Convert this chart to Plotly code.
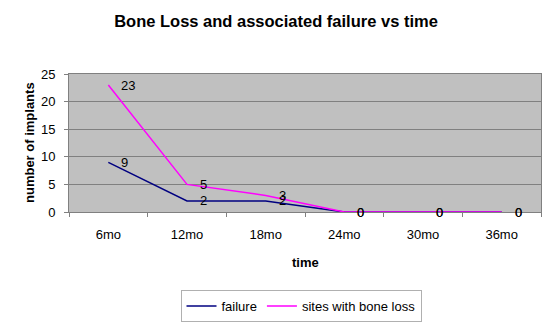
import plotly.graph_objects as go

categories = ["6mo", "12mo", "18mo", "24mo", "30mo", "36mo"]
failure = [9, 2, 2, 0, 0, 0]
bone_loss = [23, 5, 3, 0, 0, 0]

font = "Liberation Sans, Arial, sans-serif"

fig = go.Figure()
fig.add_trace(go.Scatter(
    x=categories, y=failure, name="failure", mode="lines",
    line=dict(color="#000080", width=1.5), cliponaxis=False))
fig.add_trace(go.Scatter(
    x=categories, y=bone_loss, name="sites with bone loss", mode="lines",
    line=dict(color="#FF00FF", width=1.5), cliponaxis=False))

for series in (failure, bone_loss):
    for c, v in zip(categories, series):
        fig.add_annotation(x=c, y=v, xref="x", yref="y", text=str(v),
                           showarrow=False, xanchor="left", yanchor="middle",
                           xshift=11, font=dict(family=font, size=13, color="black"))

# axis titles
fig.add_annotation(x=-40 / 472, y=0.5, xref="paper", yref="paper",
                   text="<b>number of implants</b>", textangle=-90, showarrow=False,
                   xanchor="center", yanchor="middle", font=dict(family=font, size=13))
fig.add_annotation(x=0.5, y=-50 / 138, xref="paper", yref="paper",
                   text="<b>time</b>", showarrow=False,
                   xanchor="center", yanchor="middle", font=dict(family=font, size=13))

fig.update_layout(
    width=552, height=326,
    margin=dict(l=69, r=11, t=74, b=114),
    paper_bgcolor="white", plot_bgcolor="#C0C0C0",
    font=dict(family=font, size=13, color="black"),
    title=dict(text="<b>Bone Loss and associated failure vs time</b>",
               x=0.5, xanchor="center", y=0.935, yanchor="middle",
               font=dict(family=font, size=16.5)),
    showlegend=True,
    legend=dict(orientation="h", x=0.5 - 4 / 472, xanchor="center", yref="container",
                y=1 - 290 / 326, yanchor="top",
                bordercolor="#B0B0B0", borderwidth=1, bgcolor="white",
                font=dict(family=font, size=13), itemwidth=30),
    xaxis=dict(type="category", range=[-0.5, 5.5], tickson="boundaries", ticks="outside",
               ticklen=4, tickcolor="#808080", showline=True, linecolor="#808080", mirror=True,
               showgrid=False, tickfont=dict(family=font, size=13), automargin=False,
               ticklabelstandoff=10),
    yaxis=dict(range=[0, 25], dtick=5, ticks="outside", ticklen=4, tickcolor="#808080",
               showline=True, linecolor="#808080", mirror=True, automargin=False,
               showgrid=True, gridcolor="#808080", gridwidth=1, zeroline=False,
               tickfont=dict(family=font, size=13), ticklabelstandoff=6),
)

fig.write_html("out.html", config={"displayModeBar": False},
               post_script="document.body.style.margin='0';document.body.style.overflow='hidden';")
